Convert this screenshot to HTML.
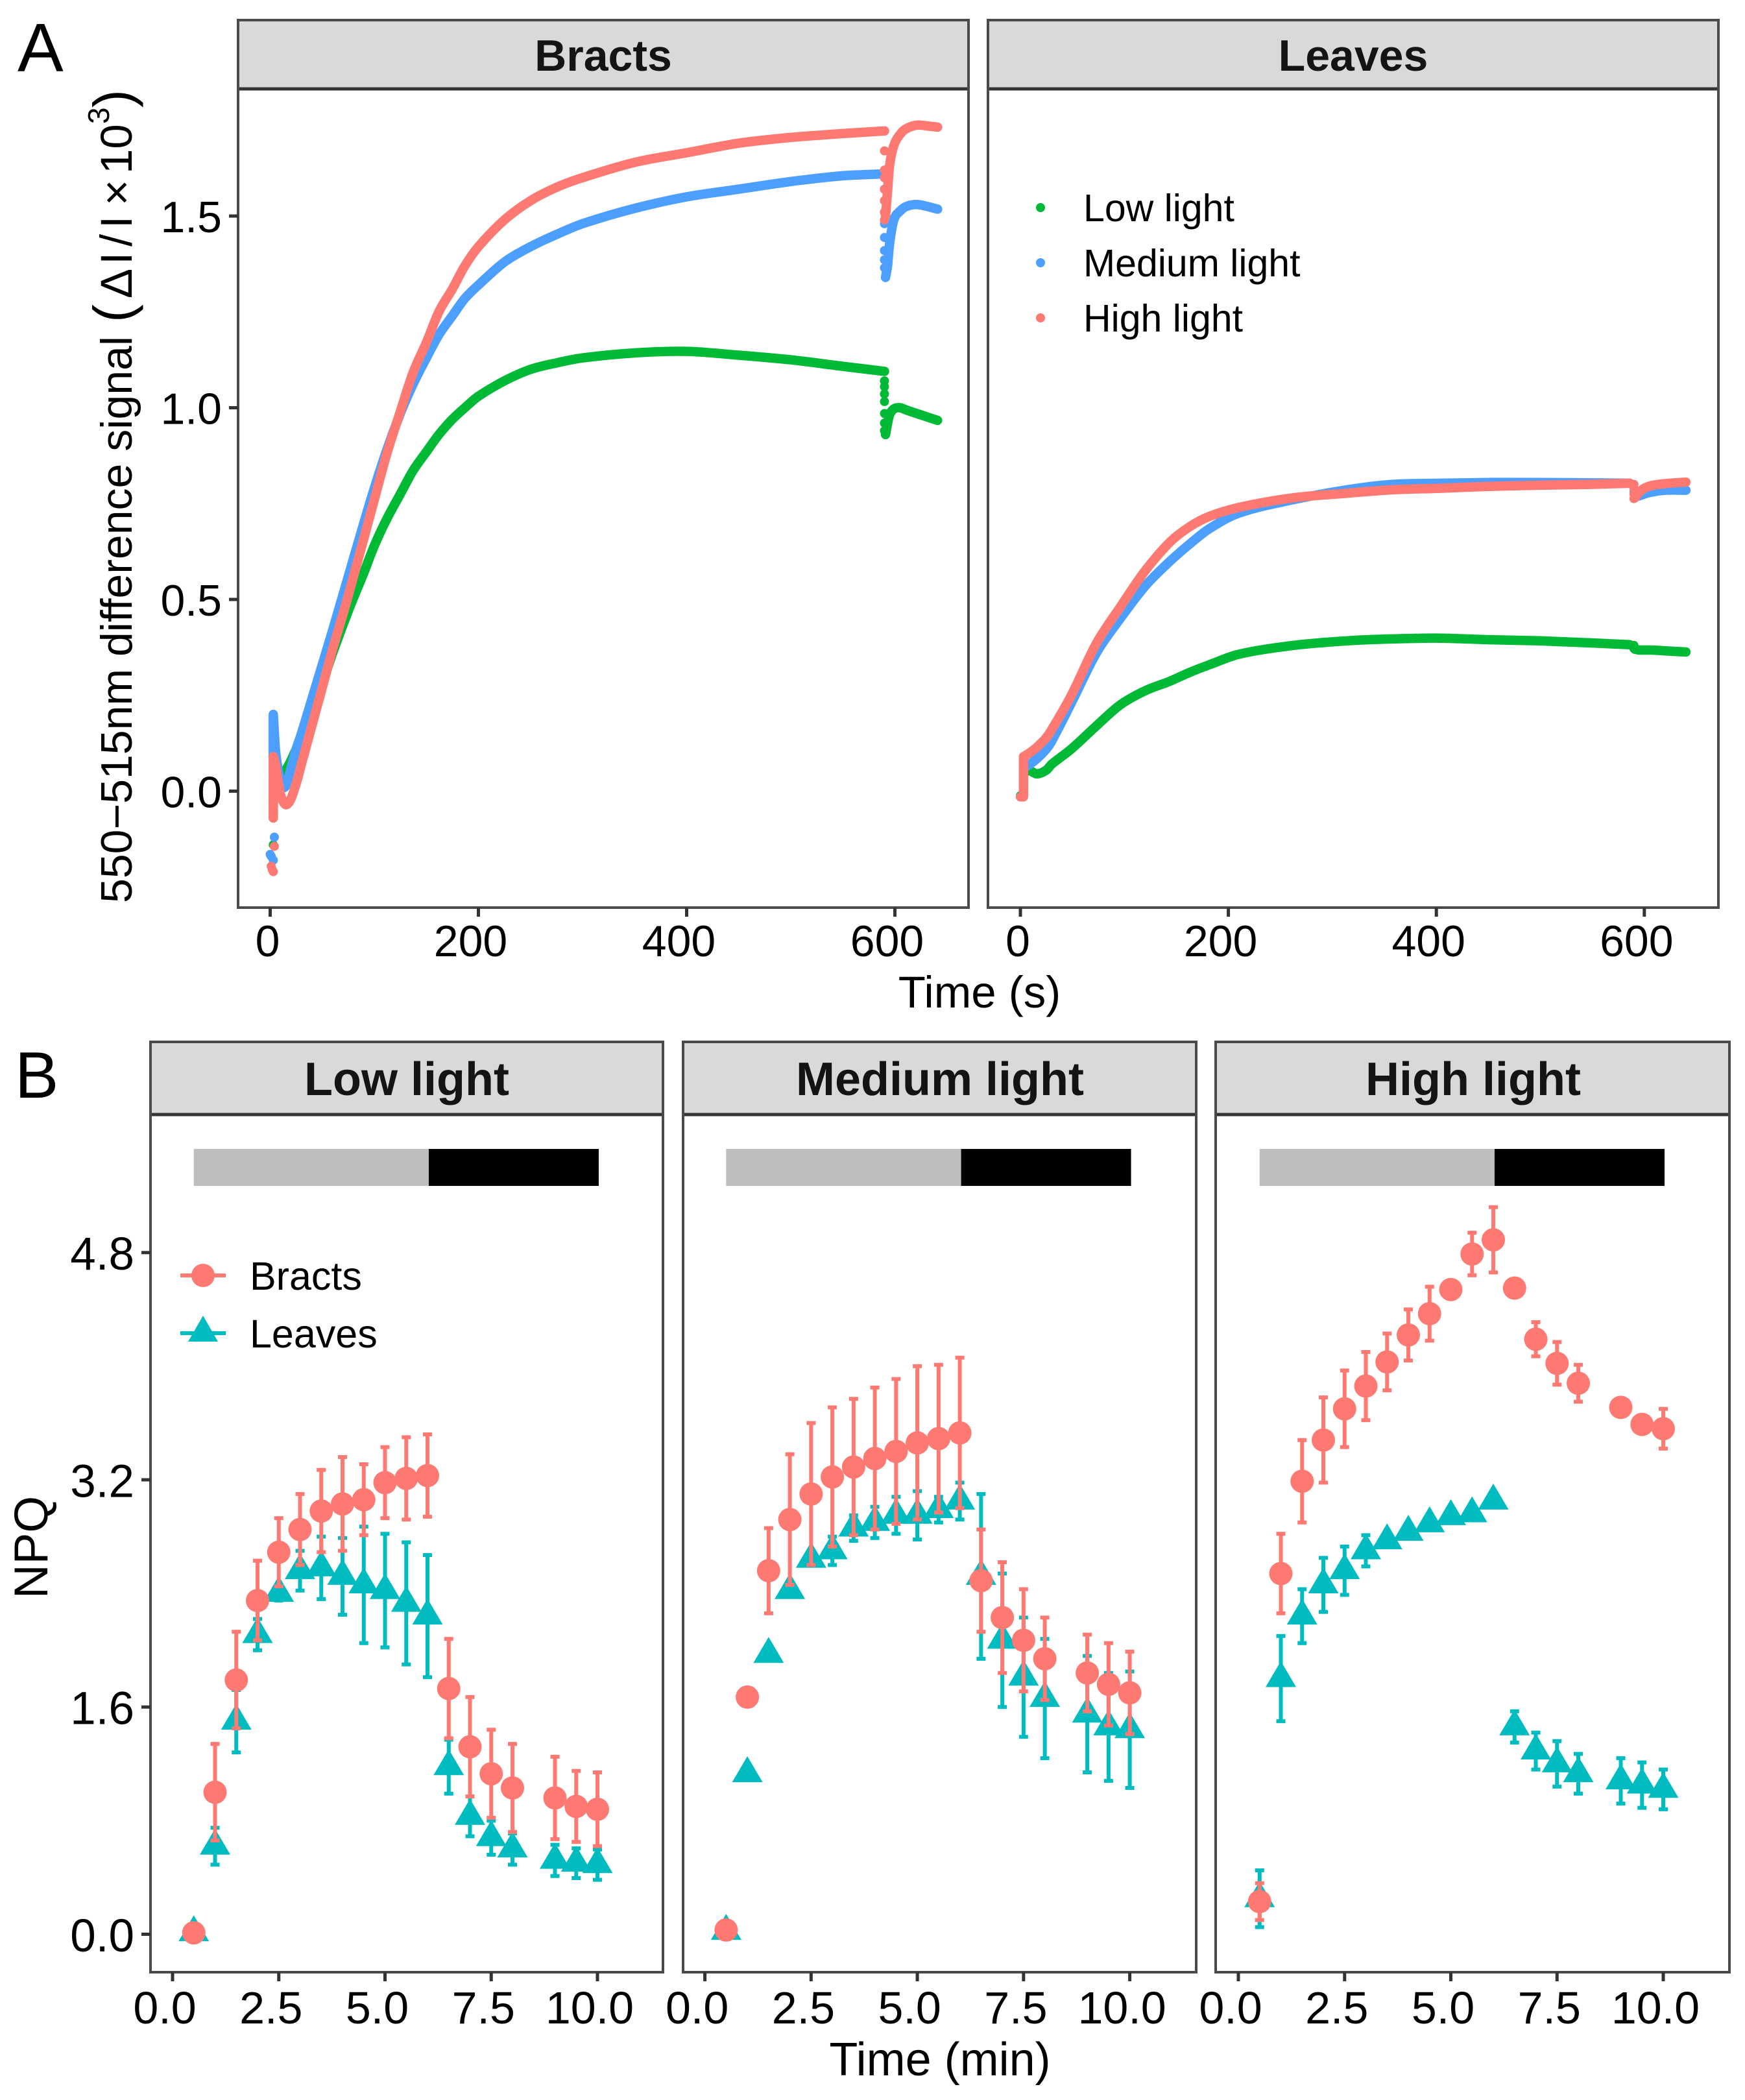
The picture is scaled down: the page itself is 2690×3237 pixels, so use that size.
<!DOCTYPE html>
<html lang="en">
<head>
<meta charset="utf-8">
<title>550-515nm difference signal and NPQ</title>
<style>
html,body{margin:0;padding:0;background:#fff;width:2690px;height:3237px;overflow:hidden}
svg{display:block}
text{font-family:"Liberation Sans",sans-serif;fill:#000}
.strip{fill:#d9d9d9;stroke:none}
.frame{fill:none;stroke:#4a4a4a;stroke-width:4}
.stripline{stroke:#333;stroke-width:5}
.striptitle{font-weight:bold;text-anchor:middle;fill:#141414}
.axt{text-anchor:middle}
</style>
</head>
<body>
<svg id="fig" xmlns="http://www.w3.org/2000/svg" width="2690" height="3237" viewBox="0 0 2690 3237">
  <rect width="2690" height="3237" fill="#fff"/>
  <text x="27" y="110" font-size="106">A</text>
  <text x="23" y="1692" font-size="101">B</text>

  <rect class="strip" x="367" y="31" width="1126" height="106"/>
  <rect class="strip" x="1523" y="31" width="1126" height="106"/>
  <line class="stripline" x1="367" x2="1493" y1="137" y2="137"/>
  <line class="stripline" x1="1523" x2="2649" y1="137" y2="137"/>
  <rect class="frame" x="367" y="31" width="1126" height="1368"/>
  <rect class="frame" x="1523" y="31" width="1126" height="1368"/>
  <text class="striptitle" x="930" y="109" font-size="68">Bracts</text>
  <text class="striptitle" x="2086" y="109" font-size="68">Leaves</text>

  <g transform="rotate(-90)">
    <text x="-1392" y="203" font-size="68">550−515nm difference signal</text>
    <text x="-497" y="203" font-size="84">(</text>
    <text x="-460" y="203" font-size="69" letter-spacing="6">ΔI</text>
    <text x="-380" y="203" font-size="69">/</text>
    <text x="-352" y="203" font-size="69">I</text>
    <text x="-317" y="203" font-size="69">×</text>
    <text x="-268" y="203" font-size="69">10</text>
    <text x="-191" y="168" font-size="46">3</text>
    <text x="-166" y="203" font-size="84">)</text>
  </g>
  <text class="axt" font-size="69" x="1510" y="1553">Time (s)</text>

  <circle cx="1604" cy="320" r="7" fill="#00B935"/>
  <circle cx="1604" cy="405" r="7" fill="#4C9EFF"/>
  <circle cx="1604" cy="490" r="7" fill="#FD7972"/>
  <text x="1670" y="341" font-size="59">Low light</text>
  <text x="1670" y="426" font-size="59">Medium light</text>
  <text x="1670" y="511" font-size="59">High light</text>

  <rect class="strip" x="232" y="1606" width="790" height="112"/>
  <rect class="strip" x="1053" y="1606" width="791" height="112"/>
  <rect class="strip" x="1874" y="1606" width="792" height="112"/>
  <line class="stripline" x1="232" x2="1022" y1="1718" y2="1718"/>
  <line class="stripline" x1="1053" x2="1844" y1="1718" y2="1718"/>
  <line class="stripline" x1="1874" x2="2666" y1="1718" y2="1718"/>
  <rect class="frame" x="232" y="1606" width="790" height="1434"/>
  <rect class="frame" x="1053" y="1606" width="791" height="1434"/>
  <rect class="frame" x="1874" y="1606" width="792" height="1434"/>
  <text class="striptitle" x="627" y="1688" font-size="72">Low light</text>
  <text class="striptitle" x="1449" y="1688" font-size="72">Medium light</text>
  <text class="striptitle" x="2271" y="1688" font-size="72">High light</text>

  <text font-size="73" text-anchor="middle" transform="translate(73,2385) rotate(-90)">NPQ</text>
  <text class="axt" font-size="72" x="1449" y="3199">Time (min)</text>

  <g>
    <line x1="278" x2="348" y1="1966" y2="1966" stroke="#FD7972" stroke-width="6"/>
    <circle cx="313" cy="1966" r="18" fill="#FD7972"/>
    <line x1="278" x2="348" y1="2055" y2="2055" stroke="#00BCC0" stroke-width="6"/>
    <polygon points="313,2028 336,2068 290,2068" fill="#00BCC0"/>
    <text x="385" y="1988" font-size="61">Bracts</text>
    <text x="385" y="2077" font-size="61">Leaves</text>
  </g>
  <g id="marks"></g>
</svg>
<script>
// ---------- Panel A data ----------
const signalTickLabels = ["0.0", "0.5", "1.0", "1.5"];
const signalTickValues = [0, 0.5, 1, 1.5];
const secondTickValues = [0, 200, 400, 600];

const bractsTime = [3,3,5,8,10,13,16,20,25,30,40,50,60,75,90,100,112,125,137,150,162,175,187,200,225,250,275,300,350,400,450,500,550,590];
const bractsHigh = [-0.07,0.09,0.07,0.02,-0.01,-0.03,-0.035,-0.02,0.02,0.07,0.17,0.27,0.37,0.51,0.66,0.76,0.88,0.99,1.09,1.17,1.25,1.31,1.37,1.42,1.49,1.54,1.575,1.6,1.64,1.665,1.69,1.705,1.715,1.722];
const bractsMedium = [0,0.2,0.11,0.05,0.03,0.01,0.02,0.06,0.11,0.15,0.24,0.33,0.42,0.56,0.7,0.79,0.89,0.985,1.06,1.13,1.19,1.24,1.285,1.32,1.38,1.42,1.452,1.48,1.52,1.55,1.57,1.59,1.605,1.61];
const bractsLow = [-0.07,0,0.02,0.03,0.04,0.05,0.06,0.08,0.11,0.14,0.21,0.28,0.36,0.47,0.57,0.64,0.71,0.775,0.835,0.885,0.93,0.97,1,1.03,1.07,1.1,1.117,1.13,1.143,1.147,1.137,1.125,1.108,1.095];

const bractsRecoveryTime = [591,593,595,599,605,611,621,631,641];
const bractsRecoveryHigh = [1.5,1.567,1.634,1.684,1.713,1.728,1.737,1.735,1.732];
const bractsRecoveryMedium = [1.34,1.37,1.43,1.49,1.513,1.525,1.53,1.525,1.518];
const bractsRecoveryLow = [0.93,0.96,0.982,0.997,1,0.994,0.985,0.976,0.967];

const bractsDropHigh = [1.67,1.62,1.6,1.57,1.54,1.51,1.49];
const bractsDropMedium = [1.6,1.57,1.54,1.51,1.48,1.444,1.41,1.386,1.365];
const bractsDropLow = [1.07,1.055,1.036,1.016,0.985,0.96,0.94];

const bractsStartTimeHigh = [1,2,3,4];
const bractsStartHigh = [-0.196,-0.205,-0.21,-0.144];
const bractsStartTimeMedium = [0,1,3,4];
const bractsStartMedium = [-0.165,-0.17,-0.18,-0.12];
const bractsStartTimeLow = [3];
const bractsStartLow = [-0.14];

const leavesTime = [3,3,9,16,25,30,49,73,96,120,144,163,182,210,262,314,357,404,451,499,546,586];
const leavesHigh = [-0.01,0.09,0.1,0.115,0.14,0.16,0.25,0.385,0.48,0.575,0.65,0.69,0.717,0.74,0.765,0.777,0.786,0.79,0.795,0.798,0.8,0.803];
const leavesMedium = [-0.01,0.06,0.07,0.085,0.11,0.13,0.23,0.36,0.45,0.535,0.6,0.645,0.685,0.725,0.76,0.786,0.8,0.803,0.805,0.805,0.804,0.803];
const leavesLow = [-0.01,0.05,0.053,0.045,0.055,0.07,0.11,0.17,0.225,0.262,0.287,0.31,0.33,0.357,0.38,0.392,0.397,0.399,0.395,0.392,0.387,0.382];

const leavesRecoveryTime = [591,595,600,607,620,640];
const leavesRecoveryHigh = [0.765,0.78,0.79,0.797,0.802,0.806];
const leavesRecoveryMedium = [0.77,0.77,0.775,0.78,0.785,0.785];
const leavesRecoveryLow = [0.37,0.368,0.368,0.368,0.366,0.363];

const leavesDropHigh = [0.8,0.79,0.775,0.763];
const leavesDropMedium = [0.8,0.78];
const leavesDropLow = [0.38,0.372];

const leavesStartTime = [0,1,2,3];
const leavesStartHigh = [-0.015,-0.015,-0.015,-0.015];
const leavesStartMedium = [-0.015,-0.015,-0.015,-0.015];
const leavesStartLow = [-0.012,-0.012,-0.01,-0.01];

// ---------- Panel B data ----------
const npqTickLabels = ["0.0", "1.6", "3.2", "4.8"];
const npqTickValues = [0, 1.6, 3.2, 4.8];
const minuteTickLabels = ["0.0", "2.5", "5.0", "7.5", "10.0"];
const minuteTickValues = [0, 2.5, 5, 7.5, 10];
const lightPhase = [0.5, 6.03];
const darkPhase = [6.03, 10.03];

const npqTime = [0.5,1,1.5,2,2.5,3,3.5,4,4.5,5,5.5,6,6.5,7,7.5,8,9,9.5,10];

const lowBracts = [0.01,1,1.79,2.35,2.69,2.85,2.98,3.03,3.06,3.18,3.21,3.23,1.73,1.32,1.13,1.03,0.96,0.9,0.88];
const lowBractsErr = [0,0.34,0.34,0.28,0.24,0.25,0.29,0.33,0.25,0.25,0.29,0.29,0.35,0.35,0.31,0.31,0.29,0.25,0.26];
const lowLeaves = [0.01,0.62,1.5,2.11,2.4,2.56,2.58,2.52,2.46,2.42,2.33,2.24,1.18,0.83,0.68,0.6,0.52,0.5,0.49];
const lowLeavesErr = [0,0.13,0.22,0.11,0.05,0.14,0.22,0.27,0.41,0.4,0.43,0.43,0.19,0.14,0.12,0.11,0.11,0.105,0.107];

const mediumBracts = [0.03,1.67,2.56,2.92,3.1,3.22,3.29,3.35,3.4,3.46,3.49,3.53,2.49,2.23,2.07,1.94,1.84,1.76,1.7];
const mediumBractsErr = [0,0,0.3,0.46,0.5,0.49,0.48,0.5,0.51,0.54,0.52,0.53,0.36,0.39,0.36,0.29,0.27,0.29,0.29];
const mediumLeaves = [0.02,1.13,1.97,2.42,2.64,2.7,2.86,2.9,2.95,2.95,2.99,3.05,2.52,2.07,1.81,1.66,1.55,1.46,1.44];
const mediumLeavesErr = [0,0,0,0,0,0.1,0.09,0.11,0.13,0.17,0.09,0.13,0.58,0.47,0.42,0.42,0.41,0.38,0.41];

const highBracts = [0.23,2.54,3.19,3.48,3.7,3.86,4.03,4.22,4.37,4.54,4.79,4.89,4.55,4.19,4.02,3.88,3.71,3.59,3.56];
const highBractsErr = [0.13,0.28,0.29,0.3,0.27,0.24,0.2,0.18,0.19,0,0.15,0.23,0,0.12,0.15,0.13,0,0,0.14];
const highLeaves = [0.25,1.8,2.24,2.46,2.56,2.7,2.77,2.83,2.89,2.94,2.96,3.05,1.46,1.29,1.2,1.13,1.08,1.05,1.02];
const highLeavesErr = [0.2,0.3,0.19,0.19,0.17,0.11,0,0,0,0,0,0,0.11,0.13,0.16,0.14,0.16,0.16,0.14];

// ---------- Axis functions ----------
const NS = "http://www.w3.org/2000/svg";
const root = document.getElementById("marks");
const RED = "#FD7972", TEAL = "#00BCC0", BLUE = "#4C9EFF", GREEN = "#00B935";

function make(tag, attrs) {
  const n = document.createElementNS(NS, tag);
  for (const k in attrs) n.setAttribute(k, attrs[k]);
  root.appendChild(n);
  return n;
}
const signalY = v => 1219.5 - v * 591;
const npqY = v => 2981.5 - v * 218.9;
const bractsX = t => 416.5 + t * 1.605;
const leavesX = t => 1573 + t * 1.603;
const lowX = m => 266 + m * 65.5;
const mediumX = m => 1086.6 + m * 65.5;
const highX = m => 1909 + m * 65.5;

function yTicks(values, labels, yFn, leftEdge, axisName, fontSize) {
  values.forEach((v, i) => {
    const t = make("line", {x1: leftEdge - 14, x2: leftEdge, y1: yFn(v), y2: yFn(v), stroke: "#333", "stroke-width": 5});
    
    
    const l = make("text", {x: leftEdge - 25, y: yFn(v) + fontSize * 0.37, "font-size": fontSize, "text-anchor": "end"});
    l.textContent = labels[i];
    
    
  });
}
function xTicks(values, labels, xFn, bottom, baseline, axisName, fontSize) {
  values.forEach((v, i) => {
    const t = make("line", {x1: xFn(v), x2: xFn(v), y1: bottom, y2: bottom + 14, stroke: "#333", "stroke-width": 5});
    
    
    const offset = (axisName.indexOf("seconds") === 0 && v === 0) ? -4 : -12;
    const l = make("text", {x: xFn(v) + offset, y: baseline, "font-size": fontSize, "text-anchor": "middle"});
    l.textContent = labels[i];
    
    
  });
}
function smoothPath(pts) {
  // straight first segment (instrument jump), then a spacing-aware Hermite curve through the read values
  let d = "M" + pts[0][0].toFixed(1) + " " + pts[0][1].toFixed(1);
  d += "L" + pts[1][0].toFixed(1) + " " + pts[1][1].toFixed(1);
  const slope = i => {
    const a = pts[Math.max(i - 1, 1)], b = pts[Math.min(i + 1, pts.length - 1)];
    return (b[1] - a[1]) / (b[0] - a[0]);
  };
  for (let i = 1; i < pts.length - 1; i++) {
    const p1 = pts[i], p2 = pts[i + 1], h = (p2[0] - p1[0]) / 3;
    const c1x = p1[0] + h, c1y = p1[1] + slope(i) * h;
    const c2x = p2[0] - h, c2y = p2[1] - slope(i + 1) * h;
    d += "C" + c1x.toFixed(1) + " " + c1y.toFixed(1) + " " + c2x.toFixed(1) + " " + c2y.toFixed(1) + " " + p2[0].toFixed(1) + " " + p2[1].toFixed(1);
  }
  return d;
}
function curve(times, values, xFn, color, name) {
  const pts = times.map((t, i) => [xFn(t), signalY(values[i])]);
  const p = make("path", {d: smoothPath(pts), fill: "none", stroke: color, "stroke-width": 14.5, "stroke-linejoin": "round", "stroke-linecap": "round"});
  
  
}
function dots(times, values, xFn, color, name) {
  values.forEach((v, i) => {
    const c = make("circle", {cx: xFn(times[i]), cy: signalY(v), r: 7, fill: color});
    
    
  });
}
function repeatTime(t, values) { return values.map(() => t); }

function signalSeries(xFn, color, key, time, main, recTime, rec, dropT, drop, startT, start) {
  dots(startT, start, xFn, color, key + "-start-point");
  curve(time, main, xFn, color, key + "-curve");
  dots(repeatTime(dropT, drop), drop, xFn, color, key + "-drop-point");
  curve(recTime, rec, xFn, color, key + "-recovery-curve");
}

function errorBars(times, values, errs, xFn, color, name) {
  values.forEach((v, i) => {
    if (!errs[i]) return;
    const x = xFn(times[i]), top = npqY(v + errs[i]), bot = npqY(v - errs[i]);
    const s = make("path", {d: "M" + x + " " + top + "V" + bot + "M" + (x - 7) + " " + top + "H" + (x + 7) + "M" + (x - 7) + " " + bot + "H" + (x + 7), fill: "none", stroke: color, "stroke-width": 6});
    
    
  });
}
function triangles(times, values, xFn, name) {
  values.forEach((v, i) => {
    const x = xFn(times[i]), y = npqY(v);
    const p = make("polygon", {points: x + "," + (y - 27) + " " + (x + 23.5) + "," + (y + 13) + " " + (x - 23.5) + "," + (y + 13), fill: TEAL});
    
    
  });
}
function circles(times, values, xFn, name) {
  values.forEach((v, i) => {
    const c = make("circle", {cx: xFn(times[i]), cy: npqY(v), r: 18, fill: RED});
    
    
  });
}
function phaseBars(xFn, key) {
  const a = make("rect", {x: xFn(lightPhase[0]), width: xFn(lightPhase[1]) - xFn(lightPhase[0]), y: 1771, height: 57, fill: "#BEBEBE"});
  
  
  const b = make("rect", {x: xFn(darkPhase[0]), width: xFn(darkPhase[1]) - xFn(darkPhase[0]), y: 1771, height: 57, fill: "#000"});
  
  
}
function npqPanel(xFn, key, bracts, bractsErr, leaves, leavesErr) {
  phaseBars(xFn, key);
  triangles(npqTime, leaves, xFn, key + "-leaves");
  errorBars(npqTime, leaves, leavesErr, xFn, TEAL, key + "-leaves");
  errorBars(npqTime, bracts, bractsErr, xFn, RED, key + "-bracts");
  circles(npqTime, bracts, xFn, key + "-bracts");
}

// ---------- Panel A ----------
yTicks(signalTickValues, signalTickLabels, signalY, 367, "signal-y", 68);
xTicks(secondTickValues, secondTickValues.map(String), bractsX, 1399, 1474, "seconds-bracts-x", 68);
xTicks(secondTickValues, secondTickValues.map(String), leavesX, 1399, 1474, "seconds-leaves-x", 68);

signalSeries(bractsX, GREEN, "bracts-low", bractsTime, bractsLow, bractsRecoveryTime, bractsRecoveryLow, 590, bractsDropLow, bractsStartTimeLow, bractsStartLow);
signalSeries(bractsX, BLUE, "bracts-medium", bractsTime, bractsMedium, bractsRecoveryTime, bractsRecoveryMedium, 590, bractsDropMedium, bractsStartTimeMedium, bractsStartMedium);
signalSeries(bractsX, RED, "bracts-high", bractsTime, bractsHigh, bractsRecoveryTime, bractsRecoveryHigh, 590, bractsDropHigh, bractsStartTimeHigh, bractsStartHigh);

signalSeries(leavesX, GREEN, "leaves-low", leavesTime, leavesLow, leavesRecoveryTime, leavesRecoveryLow, 590, leavesDropLow, leavesStartTime, leavesStartLow);
signalSeries(leavesX, BLUE, "leaves-medium", leavesTime, leavesMedium, leavesRecoveryTime, leavesRecoveryMedium, 590, leavesDropMedium, leavesStartTime, leavesStartMedium);
signalSeries(leavesX, RED, "leaves-high", leavesTime, leavesHigh, leavesRecoveryTime, leavesRecoveryHigh, 590, leavesDropHigh, leavesStartTime, leavesStartHigh);

// ---------- Panel B ----------
yTicks(npqTickValues, npqTickLabels, npqY, 232, "npq-y", 71);
xTicks(minuteTickValues, minuteTickLabels, lowX, 3040, 3119, "minutes-low-x", 70);
xTicks(minuteTickValues, minuteTickLabels, mediumX, 3040, 3119, "minutes-medium-x", 70);
xTicks(minuteTickValues, minuteTickLabels, highX, 3040, 3119, "minutes-high-x", 70);

npqPanel(lowX, "low", lowBracts, lowBractsErr, lowLeaves, lowLeavesErr);
npqPanel(mediumX, "medium", mediumBracts, mediumBractsErr, mediumLeaves, mediumLeavesErr);
npqPanel(highX, "high", highBracts, highBractsErr, highLeaves, highLeavesErr);
</script>
</body>
</html>
